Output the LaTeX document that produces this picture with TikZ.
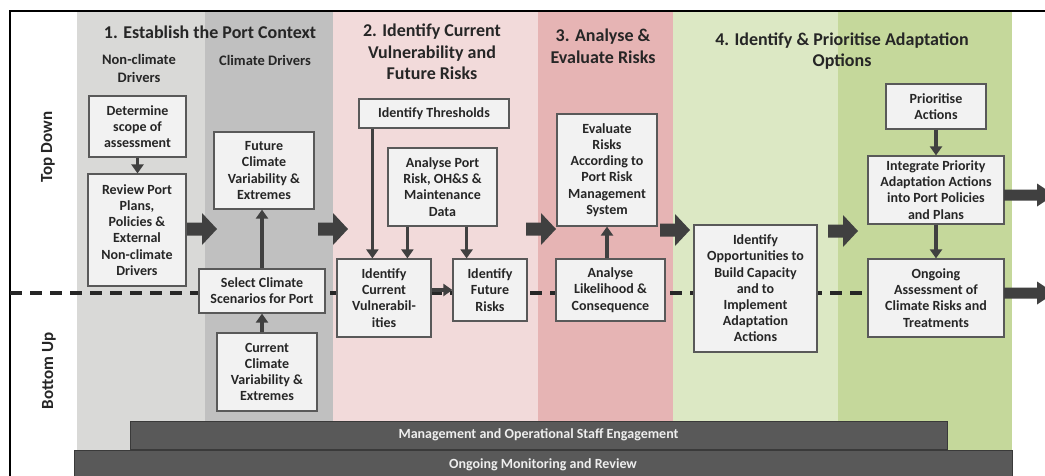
\documentclass[tikz,border=0pt]{standalone}
\usepackage{fontspec}
\setmainfont{Carlito}
\usetikzlibrary{arrows.meta}
\definecolor{bandA}{HTML}{D9D9D7}
\definecolor{bandB}{HTML}{C0C0C0}
\definecolor{bandC}{HTML}{F2DADA}
\definecolor{bandD}{HTML}{E6B4B4}
\definecolor{bandE}{HTML}{DCE8C4}
\definecolor{bandF}{HTML}{C5D89B}
\definecolor{boxfill}{HTML}{F2F2F2}
\definecolor{boxline}{HTML}{595959}
\definecolor{arrowfill}{HTML}{404040}
\definecolor{barfill}{HTML}{595959}
\definecolor{barline}{HTML}{3A3A3A}
\definecolor{bartext}{HTML}{EEEEEE}
\definecolor{txt}{HTML}{262626}
\begin{document}
\begin{tikzpicture}[x=1pt,y=-1pt,
  box/.style={draw=boxline, fill=boxfill, line width=1.2pt, align=center, inner sep=0pt,
    text=txt, font=\bfseries\fontsize{14}{16.2}\selectfont},
  title/.style={align=center, text=txt, inner sep=0pt, font=\bfseries\fontsize{18}{21.7}\selectfont},
  subtitle/.style={align=center, text=txt, inner sep=0pt, font=\bfseries\fontsize{14.5}{17.5}\selectfont},
  side/.style={text=txt, inner sep=0pt, rotate=90, font=\bfseries\fontsize{17}{20}\selectfont},
  bar/.style={draw=barline, fill=barfill, line width=1pt, inner sep=0pt, text=bartext,
    font=\bfseries\fontsize{14}{16}\selectfont},
  conn/.style={draw=arrowfill, line width=3.5pt, -{Triangle[length=9pt,width=12pt]}},
  dashline/.style={draw=txt, line width=3.5pt, dash pattern=on 12pt off 8pt},
  blockarrow/.pic={\fill[arrowfill] (0,-6.5) -- (15,-6.5) -- (15,-16) -- (30,0) -- (15,16) -- (15,6.5) -- (0,6.5) -- cycle;},
  outarrow/.pic={\fill[arrowfill] (0,-5.5) -- (33,-5.5) -- (33,-11.5) -- (50,0) -- (33,11.5) -- (33,5.5) -- (0,5.5) -- cycle;}
]
\useasboundingbox (0,0) rectangle (1045,475);
\fill[white] (0,0) rectangle (1045,475);
% bands
\fill[bandA] (77,12) rectangle (205,475);
\fill[bandB] (205,12) rectangle (333,475);
\fill[bandC] (333,12) rectangle (538,475);
\fill[bandD] (538,12) rectangle (673,475);
\fill[bandE] (673,12) rectangle (838,475);
\fill[bandF] (838,12) rectangle (1012,475);
% frame
\draw[black, line width=1.5pt] (10,476) -- (10,11) -- (1046,11);
% titles
\node[title] (t1) at (210,32) {1. Establish the Port Context};
\node[title] (t2) at (432,52) {2. Identify Current\\Vulnerability and\\Future Risks};
\node[title] (t3) at (603,46) {3. Analyse \&\\Evaluate Risks};
\node[title] (t4) at (842,51) {4. Identify \& Prioritise Adaptation\\Options};
\node[subtitle] (s1) at (139,68.5) {Non-climate\\Drivers};
\node[subtitle] (s2) at (265,60) {Climate Drivers};
\node[side] (td) at (48,147) {Top Down};
\node[side] (bu) at (49,371) {Bottom Up};
% dashed separator
\coordinate (dl) at (10,293);
\coordinate (dr) at (868,293);
\draw[dashline] (dl) -- (dr);
% boxes
\node[box, minimum width=97pt, minimum height=61pt] (det) at (137.5,126.5) {Determine\\scope of\\assessment};
\node[box, minimum width=98pt, minimum height=112pt] (rev) at (137,230) {Review Port\\Plans,\\Policies \&\\External\\Non-climate\\Drivers};
\node[box, minimum width=100pt, minimum height=77pt] (fut) at (264,170.5) {Future\\Climate\\Variability \&\\Extremes};
\node[box, minimum width=126pt, minimum height=44pt] (sel) at (262,291) {Select Climate\\Scenarios for Port};
\node[box, minimum width=100pt, minimum height=78pt] (cur) at (267,372) {Current\\Climate\\Variability \&\\Extremes};
\node[box, minimum width=150pt, minimum height=29pt] (thr) at (434,113.5) {Identify Thresholds};
\node[box, minimum width=109pt, minimum height=78pt] (apr) at (442.5,187) {Analyse Port\\Risk, OH\&S \&\\Maintenance\\Data};
\node[box, minimum width=94pt, minimum height=78pt] (icv) at (384,298) {Identify\\Current\\Vulnerabil-\\ities};
\node[box, minimum width=74pt, minimum height=62pt] (ifr) at (490,290) {Identify\\Future\\Risks};
\node[box, minimum width=100pt, minimum height=112pt] (eva) at (607,170) {Evaluate\\Risks\\According to\\Port Risk\\Management\\System};
\node[box, minimum width=109pt, minimum height=62pt] (alc) at (610.5,290) {Analyse\\Likelihood \&\\Consequence};
\node[box, minimum width=123pt, minimum height=127pt] (opp) at (755.5,288.5) {Identify\\Opportunities to\\Build Capacity\\and to\\Implement\\Adaptation\\Actions};
\node[box, minimum width=100pt, minimum height=45pt] (pri) at (936,106.5) {Prioritise\\Actions};
\node[box, minimum width=136pt, minimum height=68pt] (int) at (936,190) {Integrate Priority\\Adaptation Actions\\into Port Policies\\and Plans};
\node[box, minimum width=136pt, minimum height=78pt] (ong) at (936,298) {Ongoing\\Assessment of\\Climate Risks and\\Treatments};
% connectors
\draw[conn] (det.south) -- (det.south |- rev.north);
\draw[conn] (sel.north) -- (sel.north |- fut.south);
\draw[conn] (cur.north -| sel.south) -- (sel.south);
\draw[conn] ([xshift=14pt]thr.south west) -- ([xshift=14pt]thr.south west |- icv.north);
\draw[conn] ([xshift=20pt]apr.south west) -- ([xshift=20pt]apr.south west |- icv.north);
\draw[conn] ([xshift=-31pt]apr.south east) -- ([xshift=-31pt]apr.south east |- ifr.north);
\draw[conn] (icv.east |- ifr.west) -- (ifr.west);
\draw[conn] (alc.north -| eva.south) -- (eva.south);
\draw[conn] (pri.south) -- (int.north);
\draw[conn] (int.south) -- (ong.north);
% block arrows between stages
\pic at (187,229) {blockarrow};
\pic at (318,229) {blockarrow};
\pic at (526,229) {blockarrow};
\pic at (660,230) {blockarrow};
\pic at (828,231) {blockarrow};
\pic at ([xshift=-0.5pt,yshift=-5pt]int.east) {outarrow};
\pic at ([xshift=-0.5pt]ong.east |- dr) {outarrow};
% bars
\node[bar, minimum width=817pt, minimum height=28pt] (mgmt) at (538.5,435) {Management and Operational Staff Engagement};
\node[bar, minimum width=938pt, minimum height=30pt, anchor=north] (mon) at (543,450) {};
\node[text=bartext, inner sep=0pt, font=\bfseries\fontsize{14}{16}\selectfont] (montxt) at (543,465) {Ongoing Monitoring and Review};
\end{tikzpicture}
\end{document}
